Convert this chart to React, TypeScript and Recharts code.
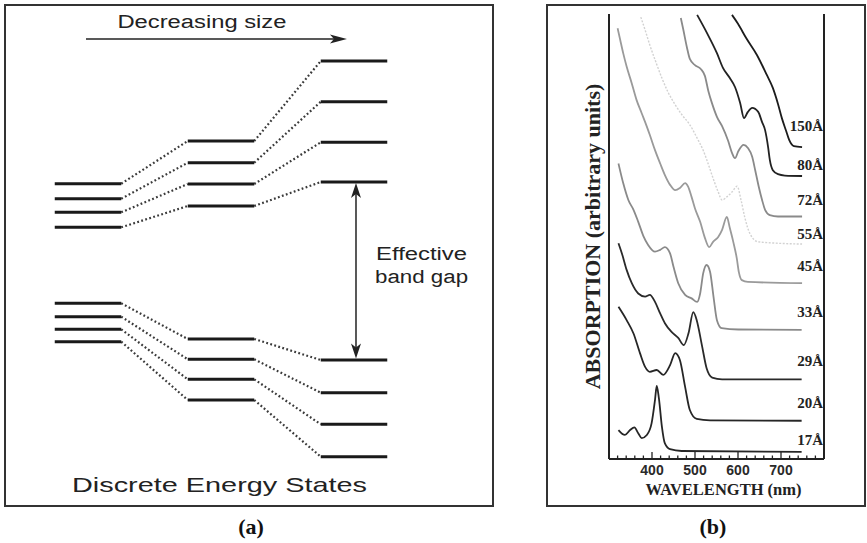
import React from "react";
import {
  ComposedChart,
  Line,
  XAxis,
  YAxis,
  ReferenceLine,
  ReferenceDot,
  Label,
} from "recharts";

const SANS = "'Liberation Sans', Arial, Helvetica, sans-serif";
const SERIF = "'Liberation Serif', 'Times New Roman', Times, serif";

// ---- panel (a): energy levels (arb. units) going from bulk -> small crystal
const stages = [0, 1, 2];
const conductionLevels = [
  [4.27, 6.4, 8.8],
  [5.77, 8.6, 12.77],
  [7.13, 10.73, 16.83],
  [8.63, 12.9, 20.9],
];
const valenceLevels = [
  [-3.33, -6.9, -9.0],
  [-4.67, -8.93, -12.27],
  [-5.93, -10.93, -15.43],
  [-7.17, -13.0, -18.67],
];

// ---- panel (b): absorption spectra, [wavelength nm, absorption a.u.]
const abs150 = [
  [586, 9.98], [600, 9.78], [619, 9.46], [644, 9.08], [667, 8.63], [681, 8.34],
  [693, 7.98], [702, 7.66], [712, 7.37], [719, 7.17], [730, 7.03], [749, 7.01],
];
const abs80 = [
  [505, 9.98], [528, 9.57], [551, 9.12], [565, 8.79], [581, 8.56], [593, 8.36],
  [605, 8.0], [614, 7.66], [623, 7.8], [633, 7.89], [647, 7.8], [656, 7.57],
  [663, 7.39], [670, 7.01], [674, 6.72], [681, 6.49], [693, 6.4], [709, 6.37], [749, 6.36],
];
const abs72 = [
  [467, 9.91], [473, 9.64], [481, 9.26], [488, 8.99], [500, 8.85], [514, 8.76],
  [523, 8.61], [531, 8.27], [540, 7.98], [551, 7.69], [563, 7.48], [577, 7.15],
  [586, 6.88], [593, 6.76], [601, 6.92], [613, 7.06], [623, 6.99], [633, 6.79],
  [640, 6.49], [648, 6.13], [656, 5.82], [663, 5.6], [674, 5.48], [693, 5.45], [749, 5.45],
];
const abs55 = [
  [374, 9.93], [384, 9.64], [395, 9.3], [409, 8.92], [423, 8.56], [437, 8.25],
  [454, 7.96], [470, 7.73], [488, 7.51], [505, 7.21], [519, 6.94], [530, 6.65],
  [542, 6.31], [554, 6.0], [563, 5.82], [574, 5.89], [586, 6.0], [598, 6.13],
  [607, 5.82], [616, 5.42], [628, 5.06], [647, 4.88], [749, 4.83],
];
const abs45 = [
  [320, 9.68], [326, 9.42], [333, 9.12], [341, 8.82], [353, 8.44], [364, 8.07],
  [376, 7.77], [388, 7.47], [395, 7.28], [407, 6.94], [419, 6.64], [430, 6.38],
  [442, 6.16], [454, 6.04], [465, 6.09], [477, 6.2], [484, 6.12], [492, 5.89],
  [500, 5.63], [512, 5.33], [523, 4.97], [533, 4.76], [542, 4.88], [554, 4.99],
  [563, 5.15], [574, 5.44], [581, 5.19], [589, 4.88], [597, 4.52], [602, 4.2],
  [609, 4.02], [623, 3.98], [749, 3.95],
];
const abs33 = [
  [322, 6.64], [333, 6.2], [345, 5.82], [357, 5.6], [368, 5.33], [380, 5.01],
  [391, 4.81], [407, 4.66], [419, 4.7], [430, 4.76], [442, 4.62], [450, 4.32],
  [461, 3.95], [477, 3.69], [492, 3.61], [505, 3.53], [512, 3.72], [519, 4.17],
  [527, 4.36], [535, 4.21], [543, 3.65], [551, 3.12], [562, 2.94], [601, 2.91], [748, 2.9],
];
const abs29 = [
  [322, 4.85], [330, 4.62], [341, 4.25], [353, 3.95], [368, 3.72], [384, 3.65],
  [395, 3.69], [407, 3.53], [419, 3.27], [430, 3.05], [446, 2.85], [461, 2.72],
  [474, 2.56], [485, 2.83], [496, 3.3], [504, 3.12], [516, 2.56], [527, 2.04],
  [540, 1.83], [563, 1.79], [748, 1.79],
];
const abs20 = [
  [322, 3.42], [341, 3.12], [357, 2.82], [372, 2.38], [384, 2.07], [395, 1.96],
  [411, 2.0], [426, 1.89], [442, 2.11], [454, 2.38], [465, 2.22], [477, 1.62],
  [488, 1.1], [504, 0.9], [535, 0.87], [748, 0.86],
];
const abs17 = [
  [322, 0.65], [337, 0.54], [349, 0.65], [359, 0.71], [368, 0.58], [376, 0.47],
  [388, 0.54], [399, 0.8], [407, 1.33], [411, 1.64], [416, 1.37], [423, 0.73],
  [430, 0.35], [442, 0.22], [469, 0.18], [748, 0.16],
];

const spectra = [abs150, abs80, abs72, abs55, abs45, abs33, abs29, abs20, abs17];
const sizeLabels = ["150Å", "80Å", "72Å", "55Å", "45Å", "33Å", "29Å", "20Å", "17Å"];
const labelLevels = [7.48, 6.61, 5.82, 5.06, 4.34, 3.3, 2.22, 1.26, 0.43];
const curveColors = ["#1c1c1c", "#222", "#8a8a8a", "#d2d2d2", "#9a9a9a", "#8a8a8a", "#2a2a2a", "#262626", "#262626"];

const wavelengthLabels = [400, 500, 600, 700];
const wavelengthTicks = Array.from({ length: 26 }, (_, i) => 300 + i * 20);

// level segments: solid bars at each stage, broken by nulls
function levelBars(levels: number[]) {
  const pts: { s: number; e: number | null }[] = [];
  stages.forEach((s, i) => {
    if (i > 0) pts.push({ s: s - 0.5, e: null });
    pts.push({ s: s - 0.25, e: levels[i] }, { s: s + 0.25, e: levels[i] });
  });
  return pts;
}

// dotted connectors between neighbouring stages
function levelLinks(levels: number[]) {
  const pts: { s: number; e: number | null }[] = [];
  for (let i = 0; i < stages.length - 1; i++) {
    if (i > 0) pts.push({ s: stages[i], e: null });
    pts.push({ s: stages[i] + 0.25, e: levels[i] }, { s: stages[i + 1] - 0.25, e: levels[i + 1] });
  }
  return pts;
}

const stretched = (text: string, size: number, length: number) => (p: any) => {
  const vb = p.viewBox || {};
  const cx = vb.x + (vb.width || 0) / 2;
  const cy = vb.y + (vb.height || 0) / 2;
  return (
    <text
      x={cx - length / 2}
      y={cy}
      fontSize={size}
      textLength={length}
      lengthAdjust="spacingAndGlyphs"
      fontFamily={SANS}
      fill="#222"
    >
      {text}
    </text>
  );
};

const RightArrow = (p: any) => {
  const { x1, y1, x2, y2 } = p;
  return (
    <g>
      <line x1={x1} y1={y1} x2={x2 - 12} y2={y2} stroke="#222" strokeWidth={1.6} />
      <polygon points={`${x2},${y2} ${x2 - 17},${y2 - 4.5} ${x2 - 13},${y2} ${x2 - 17},${y2 + 4.5}`} fill="#222" />
    </g>
  );
};

const DoubleArrow = (p: any) => {
  const x = p.x1;
  const top = Math.min(p.y1, p.y2);
  const bot = Math.max(p.y1, p.y2);
  return (
    <g>
      <line x1={x} y1={top + 10} x2={x} y2={bot - 10} stroke="#222" strokeWidth={1.5} />
      <polygon points={`${x},${top} ${x - 5},${top + 15} ${x},${top + 11} ${x + 5},${top + 15}`} fill="#222" />
      <polygon points={`${x},${bot} ${x - 5},${bot - 15} ${x},${bot - 11} ${x + 5},${bot - 15}`} fill="#222" />
    </g>
  );
};

const BottomTick = (p: any) => {
  const { x, y, payload } = p;
  const v = payload.value;
  const major = v % 100 === 0;
  return (
    <g>
      <line x1={x} y1={y} x2={x} y2={y - (major ? 7 : 3.5)} stroke="#222" strokeWidth={1.3} />
      {wavelengthLabels.includes(v) && (
        <text x={x} y={y + 16} textAnchor="middle" fontFamily={SANS} fontWeight="bold" fontSize={14} fill="#2a2a2a">
          {v}
        </text>
      )}
    </g>
  );
};

const TopTick = (p: any) => {
  const { x, y, payload } = p;
  const major = payload.value % 100 === 0;
  return <line x1={x} y1={y} x2={x} y2={y + (major ? 7 : 3.5)} stroke="#222" strokeWidth={1.3} />;
};

function EnergyPanel() {
  return (
    <ComposedChart width={489} height={502} margin={{ top: 0, right: 0, bottom: 0, left: 0 }}>
      <XAxis type="number" dataKey="s" domain={[-0.6316, 3.0451]} allowDataOverflow hide />
      <YAxis type="number" dataKey="e" domain={[-23.6, 26.6]} allowDataOverflow hide />
      {[...conductionLevels, ...valenceLevels].map((lv, i) => (
        <Line
          key={"l" + i}
          data={levelLinks(lv)}
          dataKey="e"
          type="linear"
          stroke="#3a3a3a"
          strokeWidth={2.2}
          strokeDasharray="1.8 2.4"
          dot={false}
          activeDot={false}
          legendType="none"
          isAnimationActive={false}
        />
      ))}
      {[...conductionLevels, ...valenceLevels].map((lv, i) => (
        <Line
          key={"b" + i}
          data={levelBars(lv)}
          dataKey="e"
          type="linear"
          stroke="#1a1a1a"
          strokeWidth={3}
          dot={false}
          activeDot={false}
          legendType="none"
          isAnimationActive={false}
        />
      ))}
      <ReferenceLine segment={[{ x: -0.015, y: 23.1 }, { x: 1.947, y: 23.1 }]} shape={RightArrow} />
      <ReferenceLine segment={[{ x: 2.015, y: 8.7 }, { x: 2.015, y: -8.85 }]} shape={DoubleArrow} />
      <ReferenceDot x={0.857} y={24.2} r={1} fill="none" stroke="none" label={stretched("Decreasing size", 18, 169)} />
      <ReferenceDot x={2.508} y={1.0} r={1} fill="none" stroke="none" label={stretched("Effective", 18, 91)} />
      <ReferenceDot x={2.508} y={-1.3} r={1} fill="none" stroke="none" label={stretched("band gap", 18, 93)} />
      <ReferenceDot x={0.989} y={-22.17} r={1} fill="none" stroke="none" label={stretched("Discrete Energy States", 21, 295)} />
    </ComposedChart>
  );
}

function SpectraPanel() {
  return (
    <ComposedChart width={318} height={502} margin={{ top: 10, right: 41, bottom: 7, left: 28 }}>
      <XAxis
        type="number"
        dataKey="nm"
        domain={[300, 800]}
        allowDataOverflow
        ticks={wavelengthTicks}
        interval={0}
        height={40}
        tickSize={0}
        tickMargin={0}
        tickLine={false}
        tick={BottomTick}
        axisLine={{ stroke: "#222", strokeWidth: 2 }}
      >
        <Label
          value="WAVELENGTH (nm)"
          position="insideBottom"
          offset={4}
          dx={7}
          fontFamily={SERIF}
          fontWeight="bold"
          fontSize={16.5}
          fill="#222"
        />
      </XAxis>
      <XAxis
        xAxisId="top"
        orientation="top"
        type="number"
        domain={[300, 800]}
        allowDataOverflow
        ticks={wavelengthTicks}
        interval={0}
        height={0}
        tickSize={0}
        tickMargin={0}
        tickLine={false}
        tick={TopTick}
        axisLine={{ stroke: "#222", strokeWidth: 2 }}
      />
      <YAxis
        type="number"
        dataKey="a"
        domain={[0, 10]}
        allowDataOverflow
        width={34}
        tick={false}
        tickLine={false}
        axisLine={{ stroke: "#222", strokeWidth: 2 }}
      >
        <Label
          value="ABSORPTION (arbitrary units)"
          angle={-90}
          position="center"
          fontFamily={SERIF}
          fontWeight="bold"
          fontSize={22}
          fill="#222"
        />
      </YAxis>
      <ReferenceLine x={800} stroke="#222" strokeWidth={2} />
      {spectra.map((pts, i) => (
        <Line
          key={sizeLabels[i]}
          data={pts.map(([nm, a]) => ({ nm, a }))}
          dataKey="a"
          type="monotone"
          stroke={curveColors[i]}
          strokeWidth={i === 3 ? 1.4 : 1.8}
          strokeDasharray={i === 3 ? "2 1.5" : undefined}
          dot={false}
          activeDot={false}
          legendType="none"
          isAnimationActive={false}
        />
      ))}
      {sizeLabels.map((t, i) => (
        <ReferenceDot
          key={"lab" + t}
          x={800}
          y={labelLevels[i]}
          r={1}
          fill="none"
          stroke="none"
          label={{
            value: t,
            position: "left",
            offset: 0,
            fontFamily: SERIF,
            fontWeight: "bold",
            fontSize: 15,
            fill: "#222",
          }}
        />
      ))}
    </ComposedChart>
  );
}

export default function App() {
  const frame = {
    position: "absolute" as const,
    border: "2px solid #333",
    boxSizing: "border-box" as const,
  };
  const caption = {
    position: "absolute" as const,
    top: 514,
    width: 60,
    textAlign: "center" as const,
    fontFamily: SERIF,
    fontWeight: "bold" as const,
    fontSize: 22,
    color: "#111",
  };
  return (
    <div style={{ position: "absolute", left: 0, top: 0, width: 867, height: 543, background: "#fff" }}>
      <div style={{ ...frame, left: 4, top: 4, width: 490, height: 503 }} />
      <div style={{ ...frame, left: 546, top: 4, width: 320, height: 503 }} />
      <div style={{ position: "absolute", left: 4, top: 4 }}>
        <EnergyPanel />
      </div>
      <div style={{ position: "absolute", left: 547, top: 4 }}>
        <SpectraPanel />
      </div>
      <div style={{ ...caption, left: 221 }}>(a)</div>
      <div style={{ ...caption, left: 683 }}>(b)</div>
    </div>
  );
}
